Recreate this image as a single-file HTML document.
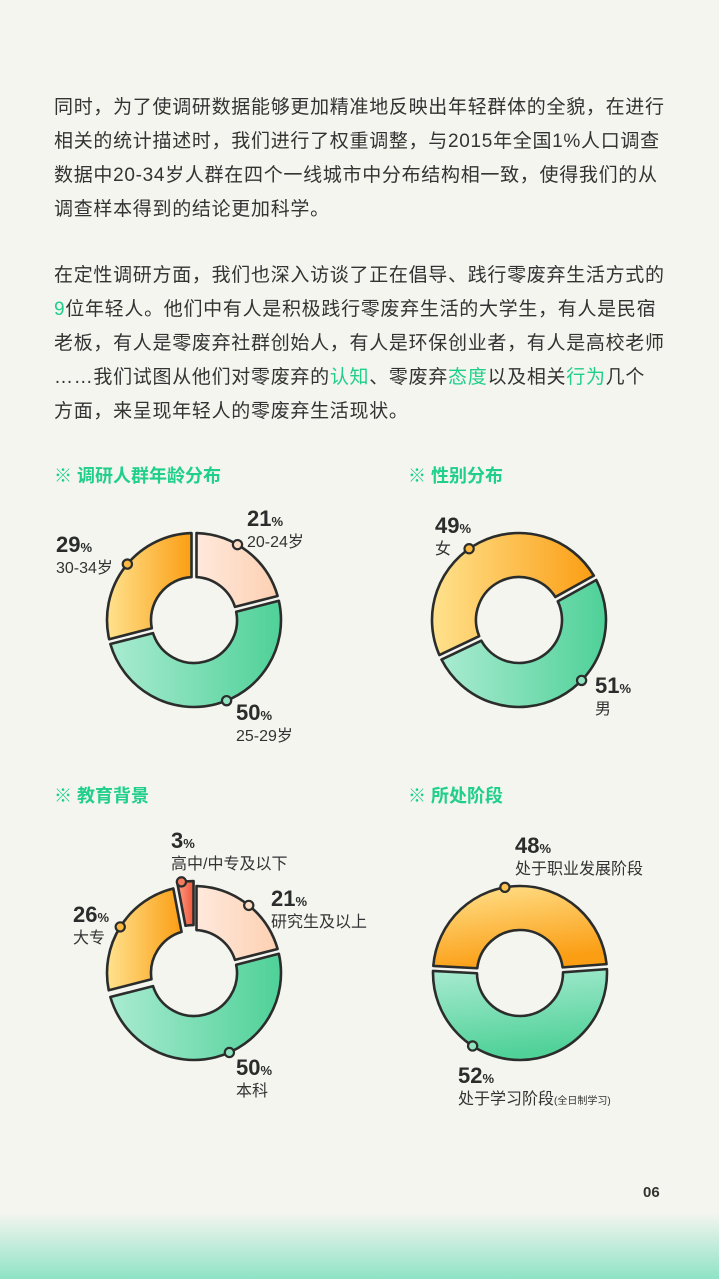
<!DOCTYPE html>
<html><head><meta charset="utf-8">
<style>
html,body{margin:0;padding:0;}
body{width:719px;height:1279px;background:#f5f5f0;position:relative;overflow:hidden;font-family:"Liberation Sans","Noto Sans CJK SC",sans-serif;color:#333;}
.p{position:absolute;left:54px;font-size:19px;line-height:34px;white-space:nowrap;letter-spacing:0.7px;}
.g{color:#1fcf8a;}
.foot{position:absolute;left:0;top:1212px;width:719px;height:67px;background:linear-gradient(to bottom,rgba(143,227,198,0),#8fe3c6);}
svg{position:absolute;left:0;top:0;}
</style></head>
<body>
<div class="p" style="top:91px">同时，为了使调研数据能够更加精准地反映出年轻群体的全貌，在进行<br>相关的统计描述时，我们进行了权重调整，与2015年全国1%人口调查<br>数据中20-34岁人群在四个一线城市中分布结构相一致，使得我们的从<br>调查样本得到的结论更加科学。</div>
<div class="p" style="top:259px">在定性调研方面，我们也深入访谈了正在倡导、践行零废弃生活方式的<br><span class="g">9</span>位年轻人。他们中有人是积极践行零废弃生活的大学生，有人是民宿<br>老板，有人是零废弃社群创始人，有人是环保创业者，有人是高校老师<br>……我们试图从他们对零废弃的<span class="g">认知</span>、零废弃<span class="g">态度</span>以及相关<span class="g">行为</span>几个<br>方面，来呈现年轻人的零废弃生活现状。</div>
<div class="foot"></div>
<svg id="chart" width="719" height="1279">
<defs>
<linearGradient id="gGreen" x1="0" y1="0" x2="1" y2="0"><stop offset="0" stop-color="#a9ebd1"/><stop offset="1" stop-color="#4fd198"/></linearGradient>
<linearGradient id="gOrange" x1="0" y1="0" x2="1" y2="0"><stop offset="0" stop-color="#ffe28e"/><stop offset="1" stop-color="#fb9e14"/></linearGradient>
<linearGradient id="gPeach" x1="0" y1="0" x2="1" y2="0"><stop offset="0" stop-color="#ffe9dc"/><stop offset="1" stop-color="#fdd0b2"/></linearGradient>
<linearGradient id="gRed" x1="0" y1="0" x2="1" y2="0"><stop offset="0" stop-color="#ffa088"/><stop offset="1" stop-color="#f0563a"/></linearGradient>
<linearGradient id="vOrange" x1="0" y1="0" x2="0.3" y2="1"><stop offset="0" stop-color="#ffe28e"/><stop offset="1" stop-color="#fb9e14"/></linearGradient>
<linearGradient id="vGreen" x1="0" y1="0" x2="0.2" y2="1"><stop offset="0" stop-color="#a9ebd1"/><stop offset="1" stop-color="#4fd198"/></linearGradient>
</defs>
<text x="643" y="1197" font-size="15" font-weight="bold" fill="#333">06</text>
</svg>
<script>
// Age chart
const ageCats = ["20-24岁","25-29岁","30-34岁"];
const ageVals = [21,50,29];
// Gender chart
const genderCats = ["男","女"];
const genderVals = [51,49];
// Education chart
const eduCats = ["研究生及以上","本科","大专","高中/中专及以下"];
const eduVals = [21,50,26,3];
// Stage chart
const stageCats = ["处于职业发展阶段","处于学习阶段"];
const stageVals = [48,52];

const NS="http://www.w3.org/2000/svg";
const svg=document.getElementById('chart');
function mk(tag,attrs,parent){const e=document.createElementNS(NS,tag);for(const k in attrs)e.setAttribute(k,attrs[k]);(parent||svg).appendChild(e);return e;}
function pt(cx,cy,r,deg){const a=(deg-90)*Math.PI/180;return [cx+r*Math.cos(a),cy+r*Math.sin(a)];}

function donut(cfg){
  const g=mk('g',{});
  
  
  const total=cfg.vals.reduce((a,b)=>a+b,0);
  let ang=cfg.start;
  const R=87,r=43;
  cfg.vals.forEach((v,i)=>{
    const sweep=v/total*360;
    const a0=ang,a1=ang+sweep;ang=a1;
    const mid=(a0+a1)/2;
    const ex=(cfg.explode&&cfg.explode[i])||0;
    const gap=(cfg.gaps&&cfg.gaps[i]!=null)?cfg.gaps[i]:5;
    const off=pt(0,0,ex,mid);
    const cx=cfg.cx+off[0],cy=cfg.cy+off[1];
    const dO=(gap/2)/R*180/Math.PI,dI=(gap/2)/r*180/Math.PI;
    const o0=pt(cx,cy,R,a0+dO),o1=pt(cx,cy,R,a1-dO),i1=pt(cx,cy,r,a1-dI),i0=pt(cx,cy,r,a0+dI);
    const lgO=(sweep-2*dO)>180?1:0,lgI=(sweep-2*dI)>180?1:0;
    const d=`M${o0[0]},${o0[1]} A${R},${R} 0 ${lgO} 1 ${o1[0]},${o1[1]} L${i1[0]},${i1[1]} A${r},${r} 0 ${lgI} 0 ${i0[0]},${i0[1]} Z`;
    const p=mk('path',{d:d,fill:'url(#'+cfg.fills[i]+')',stroke:'#2a2d2b','stroke-width':2.6,'stroke-linejoin':'round'},g);
    
    
    const dp=pt(cx,cy,R,cfg.dots[i]);
    const c=mk('circle',{cx:dp[0],cy:dp[1],r:4.6,fill:cfg.dotFill[i],stroke:'#2a2d2b','stroke-width':2.2},g);
    
    
    const L=cfg.labels[i];
    const t=mk('text',{x:L[0],y:L[1],'font-size':22,'font-weight':'bold',fill:'#2a2d2b'},g);
    
    
    t.textContent=v;
    const ts=mk('tspan',{'font-size':13},t);ts.textContent='%';
    const t2=mk('text',{x:L[0],y:L[1]+21,'font-size':16,fill:'#333'},g);
    
    
    t2.textContent=cfg.cats[i];
    if(cfg.sub&&cfg.sub[i]){const s=mk('tspan',{'font-size':10},t2);s.textContent=cfg.sub[i];}
  });
}
function title(x,y,s,name){const t=mk('text',{x:x,y:y,'font-size':18,'font-weight':'bold',fill:'#1fcf8a'});t.textContent='※ '+s;}

title(54,482,'调研人群年龄分布','age-chart-title');
title(408,482,'性别分布','gender-chart-title');
title(54,802,'教育背景','education-chart-title');
title(408,802,'所处阶段','stage-chart-title');

donut({name:'age-donut',cx:194,cy:620,start:0,vals:ageVals,cats:ageCats,
  fills:['gPeach','gGreen','gOrange'],dotFill:['#fedcc6','#8fe3c0','#fdb940'],
  dots:[30,158,310],labels:[[247,526],[236,720],[56,552]]});
donut({name:'gender-donut',cx:519,cy:620,start:61,vals:genderVals,cats:genderCats,
  fills:['gGreen','gOrange'],dotFill:['#8fe3c0','#fdb940'],
  dots:[134,325],labels:[[595,693],[435,533]]});
donut({name:'education-donut',cx:194,cy:973,start:0,vals:eduVals,cats:eduCats,explode:[0,0,0,5],gaps:[5,5,9,0],
  fills:['gPeach','gGreen','gOrange','gRed'],dotFill:['#fedcc6','#8fe3c0','#fdb940','#f77a5e'],
  dots:[39,156,302,352],labels:[[271,906],[236,1075],[73,922],[171,848]]});
donut({name:'stage-donut',cx:520,cy:973,start:273,vals:stageVals,cats:stageCats,sub:[null,'(全日制学习)'],
  fills:['vOrange','vGreen'],dotFill:['#fdc24f','#8fe3c0'],
  dots:[350,213],labels:[[515,853],[458,1083]]});
</script>
</body></html>
